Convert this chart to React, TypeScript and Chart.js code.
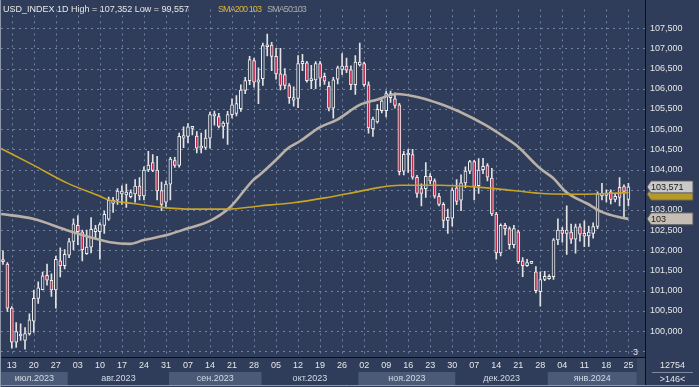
import React, { useEffect, useRef } from 'react';
import { Chart, registerables } from 'chart.js';
Chart.register(...registerables);

// ---- Data (daily candles, 11 Jul 2023 .. 25 Jan 2024) ----
const opens = [
  101.76, 101.66, 100.57, 99.73, 99.88, 99.77, 99.93, 100.25, 100.81, 101.03,
  101.38, 101.26, 101.02, 101.74, 101.62, 101.88, 102.22, 102.62, 102.46, 101.92,
  102.08, 102.46, 102.46, 102.62, 102.77, 103.16, 103.24, 103.40, 103.37, 103.33,
  103.40, 103.59, 103.35, 103.99, 104.17, 103.99, 103.48, 103.19, 103.64, 104.22,
  104.10, 104.78, 104.82, 105.02, 104.83, 104.53, 104.55, 104.78, 105.33, 105.31,
  105.07, 105.14, 105.36, 105.39, 105.51, 105.96, 106.20, 106.70, 106.16, 106.25,
  107.04, 107.08, 106.80, 106.37, 106.35, 106.08, 105.72, 105.76, 106.62, 106.64,
  106.20, 106.22, 106.62, 106.31, 106.06, 105.52, 106.24, 106.48, 106.56, 106.47,
  106.10, 106.59, 106.62, 106.10, 105.01, 105.18, 105.46, 105.46, 105.78, 105.75,
  105.60, 103.96, 104.36, 104.37, 103.81, 103.53, 103.53, 103.83, 103.72, 103.34,
  103.14, 102.74, 102.80, 103.55, 103.24, 103.67, 103.96, 104.20, 103.60, 104.00,
  104.10, 103.79, 102.90, 101.94, 102.62, 102.54, 102.14, 102.46, 101.74, 101.62,
  101.68, 101.47, 100.98, 101.28, 101.30, 101.35, 102.26, 102.50, 102.42, 102.45,
  102.28, 102.58, 102.42, 102.36, 102.42, 102.59, 103.35, 103.36, 103.45, 103.26,
  103.56, 103.58, 103.26
];
const highs = [
  101.99, 101.70, 100.61, 100.21, 100.18, 100.09, 100.43, 101.02, 101.22, 101.46,
  101.66, 101.42, 101.86, 102.06, 102.02, 102.30, 102.78, 102.86, 102.50, 102.50,
  102.81, 102.62, 102.69, 102.97, 103.32, 103.31, 103.53, 103.60, 103.64, 103.50,
  103.75, 103.80, 104.07, 104.45, 104.37, 104.33, 103.69, 103.72, 104.30, 104.30,
  104.90, 105.06, 105.14, 105.06, 104.94, 104.90, 104.98, 105.42, 105.45, 105.39,
  105.19, 105.44, 105.75, 105.83, 106.10, 106.28, 106.80, 106.76, 106.52, 107.13,
  107.352, 107.15, 107.00, 107.00, 106.50, 106.13, 106.05, 106.82, 106.85, 106.68,
  106.58, 106.67, 106.68, 106.39, 106.17, 106.28, 106.56, 106.87, 106.76, 106.57,
  106.82, 107.13, 106.66, 106.17, 105.30, 105.61, 105.73, 105.94, 105.94, 105.90,
  105.64, 104.45, 104.50, 104.50, 103.86, 103.65, 104.17, 103.90, 103.77, 103.41,
  103.18, 103.02, 103.55, 103.75, 103.87, 104.07, 104.23, 104.23, 104.27, 104.28,
  104.15, 104.03, 102.94, 102.66, 102.67, 102.58, 102.62, 102.50, 101.82, 101.78,
  101.69, 101.60, 101.47, 101.48, 101.40, 102.29, 102.78, 102.57, 103.10, 102.65,
  102.65, 102.66, 102.73, 102.60, 102.68, 103.45, 103.66, 103.50, 103.50, 103.40,
  103.80, 103.62, 103.66
];
const lows = [
  101.65, 100.49, 99.58, 99.60, 99.77, 99.557, 99.90, 99.97, 100.69, 101.02,
  101.14, 100.86, 100.57, 101.34, 101.54, 101.82, 102.02, 102.14, 101.74, 101.90,
  101.94, 102.30, 101.78, 102.42, 102.74, 102.94, 103.14, 103.14, 103.06, 103.30,
  103.19, 103.25, 103.25, 103.95, 103.95, 103.25, 102.98, 103.06, 103.25, 104.05,
  104.06, 104.54, 104.66, 104.86, 104.41, 104.41, 104.50, 104.53, 105.10, 105.03,
  104.78, 104.62, 105.28, 105.33, 105.44, 105.88, 106.10, 106.04, 105.63, 106.08,
  106.81, 106.45, 106.24, 105.97, 106.00, 105.64, 105.57, 105.53, 106.45, 106.16,
  106.00, 106.00, 106.06, 106.11, 105.45, 105.27, 106.12, 106.35, 106.40, 105.98,
  105.86, 106.56, 106.06, 104.90, 104.82, 105.15, 105.40, 105.30, 105.66, 105.52,
  103.87, 103.87, 103.93, 103.76, 103.31, 103.10, 103.31, 103.65, 103.29, 103.10,
  102.56, 102.42, 102.60, 103.13, 102.98, 103.55, 103.90, 103.25, 103.41, 103.90,
  103.72, 102.86, 101.78, 101.86, 102.38, 102.03, 102.06, 101.68, 101.35, 101.60,
  101.67, 100.95, 100.62, 101.25, 101.28, 101.28, 102.14, 102.20, 101.90, 102.17,
  101.93, 102.23, 102.09, 102.10, 102.30, 102.54, 103.25, 103.20, 103.15, 103.20,
  103.10, 102.82, 103.10
];
const closes = [
  101.72, 100.57, 99.73, 99.99, 99.92, 99.94, 100.28, 100.81, 101.07, 101.37,
  101.26, 101.02, 101.78, 101.62, 101.90, 102.22, 102.66, 102.46, 102.02, 102.08,
  102.52, 102.54, 102.64, 102.89, 103.24, 103.24, 103.47, 103.47, 103.44, 103.43,
  103.59, 103.35, 103.99, 104.11, 103.98, 103.47, 103.14, 103.64, 104.26, 104.10,
  104.82, 104.84, 105.06, 105.04, 104.53, 104.58, 104.78, 105.36, 105.37, 105.07,
  105.15, 105.36, 105.60, 105.63, 105.97, 106.20, 106.72, 106.16, 106.22, 107.07,
  107.08, 106.80, 106.37, 106.08, 106.08, 105.78, 105.78, 106.62, 106.68, 106.20,
  106.24, 106.62, 106.26, 106.19, 105.52, 106.22, 106.52, 106.56, 106.46, 106.10,
  106.66, 106.66, 106.10, 105.03, 105.25, 105.49, 105.70, 105.88, 105.88, 105.59,
  103.95, 104.38, 104.38, 103.81, 103.41, 103.41, 103.83, 103.72, 103.34, 103.14,
  102.74, 102.82, 103.49, 103.21, 103.67, 103.96, 104.20, 103.58, 103.99, 104.08,
  103.81, 102.90, 101.94, 102.62, 102.54, 102.14, 102.54, 101.72, 101.62, 101.70,
  101.68, 101.00, 101.28, 101.36, 101.36, 102.26, 102.50, 102.42, 102.50, 102.28,
  102.58, 102.40, 102.35, 102.45, 102.59, 103.40, 103.41, 103.42, 103.26, 103.34,
  103.31, 103.46, 103.571
];

// moving averages (bar index, value)
const sma50Idx = [-0.45, 6.8, 14.5, 22, 24.3, 28.8, 31.8, 37.2, 41.8, 47, 51.5, 56.8, 58.3, 62.2, 64.5, 67.4, 72, 75.8, 81, 84.9, 89.4, 94.7, 99.2, 103.7, 109.4, 113.5, 116.7, 120.3, 121.9, 124.9, 128, 132.6, 136.2, 140, 142];
const sma50Val = [102.90, 102.78, 102.50, 102.26, 102.20, 102.16, 102.25, 102.38, 102.54, 102.73, 103.06, 103.74, 103.87, 104.26, 104.51, 104.70, 105.05, 105.23, 105.60, 105.73, 105.87, 105.78, 105.63, 105.43, 105.11, 104.83, 104.59, 104.20, 104.03, 103.79, 103.43, 103.16, 102.94, 102.82, 102.78];
const sma200Idx = [-0.45, 6.9, 14.5, 22, 24.3, 29.6, 35.6, 43.2, 50.8, 58.3, 65.9, 73.1, 79.5, 85.6, 90.1, 99.2, 108.3, 115.8, 123.4, 131, 142];
const sma200Val = [104.52, 104.11, 103.67, 103.34, 103.24, 103.16, 103.07, 103.02, 103.02, 103.10, 103.18, 103.30, 103.43, 103.56, 103.61, 103.61, 103.56, 103.48, 103.40, 103.39, 103.43];

// axis labels
const dayTickIdx = [2, 7, 12, 17, 22, 27, 32, 37, 42, 47, 52, 57, 62, 67, 72, 77, 82, 87, 92, 97, 102, 107, 112, 117, 122, 127, 132, 137, 142];
const dayLabels = ['13', '20', '27', '03', '10', '17', '24', '31', '07', '14', '21', '28', '05', '12', '19', '26', '02', '09', '16', '23', '30', '07', '14', '21', '28', '04', '11', '18', '25'];
const monthLabels = ['июл.2023', 'авг.2023', 'сен.2023', 'окт.2023', 'ноя.2023', 'дек.2023', 'янв.2024'];
const monthEdges = [-0.454, 14.7, 37.7, 58.7, 80.7, 102.7, 123.7, 143.9];

const TITLE = 'USD_INDEX 1D High = 107,352 Low = 99,557';
const SMA200_TXT = 'SMA200 103';
const SMA50_TXT = 'SMA50:103';
const BAR_COUNT_TXT = '12754';
const VISIBLE_TXT = '>146<';
const CORNER_TXT = '3';

const BG = '#2f3d5a';
const BAND = '#4b5a77';
const RED = '#bf2a4d';
const SMA50_C = '#b9b1a8';
const SMA200_C = '#c9a424';
const GRID = 'rgba(125,143,178,0.85)';
const TXT = '#e6e6e6';
const FONT = '"Liberation Sans", Arial, sans-serif';

export default function App() {
  const ref = useRef<HTMLCanvasElement>(null);
  useEffect(() => {
    const canvas = ref.current;
    if (!canvas) return;
    const idx = closes.map((_, i) => i);
    const bull = idx.map((i) => closes[i] >= opens[i]);

    const fmt = (v: number) => v.toFixed(3).replace('.', ',');

    const decor = {
      id: 'decor',
      beforeDraw(chart: any) {
        const c = chart.ctx;
        c.save();
        c.fillStyle = BG;
        c.fillRect(0, 0, chart.width, chart.height);
        const xs = chart.scales.x;
        const xm = chart.scales.xm;
        for (let m = 0; m < monthLabels.length; m += 2) {
          const x0 = m === 0 ? 0 : xs.getPixelForValue(monthEdges[m]);
          const x1 = xs.getPixelForValue(monthEdges[m + 1]);
          c.fillStyle = BAND;
          c.fillRect(x0, xm.top, x1 - x0, xm.bottom - xm.top);
        }
        c.restore();
      },
      beforeDatasetsDraw(chart: any) {
        const c = chart.ctx;
        const ca = chart.chartArea;
        const xs = chart.scales.x;
        const ys = chart.scales.y;
        c.save();
        c.strokeStyle = GRID;
        c.lineWidth = 1;
        c.setLineDash([2, 4]);
        ys.ticks.forEach((t: any) => {
          const y = Math.round(ys.getPixelForValue(t.value)) + 0.5;
          c.beginPath();
          c.moveTo(ca.left, y);
          c.lineTo(ca.right, y);
          c.stroke();
        });
        xs.ticks.forEach((t: any) => {
          const x = Math.round(xs.getPixelForValue(t.value)) + 0.5;
          c.beginPath();
          c.moveTo(x, ca.top);
          c.lineTo(x, ca.bottom);
          c.stroke();
        });
        c.restore();
      },
      afterDraw(chart: any) {
        const c = chart.ctx;
        const ca = chart.chartArea;
        const ys = chart.scales.y;
        const W = chart.width;
        const H = chart.height;
        c.save();
        c.setLineDash([]);
        // dark strip at end of month row
        c.fillStyle = '#3c4862';
        c.fillRect(ca.right - 9, ca.bottom + 1, 8, H - ca.bottom - 3);
        // axis frame lines
        c.strokeStyle = '#0c0f16';
        c.lineWidth = 1;
        c.beginPath();
        c.moveTo(0, Math.round(ca.bottom) + 0.5);
        c.lineTo(ca.right, Math.round(ca.bottom) + 0.5);
        c.moveTo(Math.round(ca.right) - 0.5, 0);
        c.lineTo(Math.round(ca.right) - 0.5, H - 2);
        c.stroke();
        // outer light frame
        c.strokeStyle = '#8e98ad';
        c.beginPath();
        c.moveTo(0.5, 0);
        c.lineTo(0.5, H);
        c.moveTo(0, H - 1.5);
        c.lineTo(W, H - 1.5);
        c.stroke();

        // title texts
        c.font = '9px ' + FONT;
        c.textBaseline = 'middle';
        c.textAlign = 'left';
        c.fillStyle = TXT;
        c.fillText(TITLE, 3, 9.5);
        (c as any).letterSpacing = '-0.9px';
        c.fillStyle = '#dcb43a';
        c.fillText(SMA200_TXT, 218, 9.5);
        c.fillStyle = '#a9a9a9';
        c.fillText(SMA50_TXT, 267, 9.5);
        (c as any).letterSpacing = '0px';

        // corner number
        c.fillStyle = TXT;
        c.fillText(CORNER_TXT, ca.right - 13, ca.bottom - 4);

        // price marker boxes on the right scale
        const box = (v: number, fill: string, text: string, tc: string) => {
          const y = ys.getPixelForValue(v);
          const x0 = ca.right;
          c.beginPath();
          c.moveTo(x0 + 1, y);
          c.lineTo(x0 + 5, y - 6);
          c.lineTo(x0 + 47, y - 6);
          c.lineTo(x0 + 47, y + 6);
          c.lineTo(x0 + 5, y + 6);
          c.closePath();
          c.fillStyle = fill;
          c.fill();
          c.strokeStyle = '#555';
          c.stroke();
          if (text) {
            c.fillStyle = tc;
            c.fillText(text, x0 + 5, y + 0.5);
          }
        };
        const last = closes.length - 1;
        box(sma200Val[sma200Val.length - 1] - 0.04, '#b59a2a', '', '#000');
        box(closes[last], '#c9c9c9', fmt(closes[last]), '#1a1a1a');
        box(sma50Val[sma50Val.length - 1], '#c6beb5', String(Math.round(sma50Val[sma50Val.length - 1])), '#1a1a1a');

        // bottom-right info box
        c.fillStyle = TXT;
        c.textAlign = 'center';
        const cx = (ca.right + W) / 2;
        c.fillText(BAR_COUNT_TXT, cx, ca.bottom + 9);
        c.fillText(VISIBLE_TXT, cx, ca.bottom + 22.5);
        c.strokeStyle = '#7f8aa0';
        c.beginPath();
        c.moveTo(ca.right + 6, ca.bottom + 15.5);
        c.lineTo(W - 6, ca.bottom + 15.5);
        c.stroke();
        c.restore();
      },
    };

    const chart = new Chart(canvas, {
      type: 'bar',
      data: {
        datasets: [
          {
            type: 'line',
            label: 'SMA200',
            data: sma200Idx.map((x, i) => ({ x, y: sma200Val[i] })),
            borderColor: SMA200_C,
            borderWidth: 1.6,
            pointRadius: 0,
            cubicInterpolationMode: 'monotone',
            order: 0,
          } as any,
          {
            type: 'line',
            label: 'SMA50',
            data: sma50Idx.map((x, i) => ({ x, y: sma50Val[i] })),
            borderColor: SMA50_C,
            borderWidth: 2.6,
            pointRadius: 0,
            cubicInterpolationMode: 'monotone',
            order: 1,
          } as any,
          {
            type: 'bar',
            label: 'body',
            data: idx.map((i) => ({ x: i, y: [opens[i], closes[i]] })),
            backgroundColor: idx.map((i) => (bull[i] ? BG : RED)),
            borderColor: '#eeeeee',
            borderWidth: 1,
            borderSkipped: false,
            barThickness: 3,
            minBarLength: 2,
            grouped: false,
            order: 2,
          } as any,
          {
            type: 'bar',
            label: 'wick',
            data: idx.map((i) => ({ x: i, y: [lows[i], highs[i]] })),
            backgroundColor: '#e2e2e2',
            borderWidth: 0,
            barThickness: 1,
            grouped: false,
            order: 3,
          } as any,
        ],
      },
      options: {
        responsive: false,
        animation: false,
        devicePixelRatio: 1,
        layout: { padding: { left: 1, right: 0, top: 0, bottom: 2 } },
        plugins: { legend: { display: false }, tooltip: { enabled: false }, title: { display: false } },
        scales: {
          x: {
            type: 'linear',
            position: 'bottom',
            weight: 0,
            min: -0.454,
            max: 146.0,
            offset: false,
            grid: { display: false, drawTicks: false, offset: false },
            border: { display: false },
            afterBuildTicks: (s: any) => {
              s.ticks = dayTickIdx.map((v) => ({ value: v }));
            },
            afterFit: (s: any) => {
              s.height = 15;
            },
            ticks: {
              autoSkip: false,
              maxRotation: 0,
              minRotation: 0,
              padding: 3,
              color: TXT,
              font: { family: FONT, size: 9 },
              callback: (_v: any, i: number) => dayLabels[i],
            },
          },
          xm: {
            type: 'linear',
            axis: 'x',
            position: 'bottom',
            weight: 1,
            min: -0.454,
            max: 146.0,
            offset: false,
            grid: { display: false, drawTicks: false },
            border: { display: false },
            afterBuildTicks: (s: any) => {
              s.ticks = monthLabels.map((_, m) => ({ value: (monthEdges[m] + monthEdges[m + 1]) / 2 }));
            },
            afterFit: (s: any) => {
              s.height = 13;
            },
            ticks: {
              autoSkip: false,
              maxRotation: 0,
              minRotation: 0,
              padding: 1,
              color: '#d4dae6',
              font: { family: FONT, size: 9 },
              callback: (_v: any, i: number) => monthLabels[i],
            },
          },
          y: {
            type: 'linear',
            position: 'right',
            min: 99.361,
            max: 107.964,
            grid: { display: false, drawTicks: false },
            border: { display: false },
            afterFit: (s: any) => {
              s.width = 53;
            },
            ticks: {
              stepSize: 0.5,
              includeBounds: false,
              padding: 4,
              color: TXT,
              font: { family: FONT, size: 9 },
              callback: (v: any) => (Number(v) < 99.9 ? '' : fmt(Number(v))),
            },
          },
        } as any,
      },
      plugins: [decor],
    });
    return () => chart.destroy();
  }, []);

  return (
    <div style={{ position: 'absolute', left: 0, top: 0, width: 699, height: 387 }}>
      <canvas ref={ref} width={699} height={387} style={{ display: 'block', width: 699, height: 387 }} />
    </div>
  );
}
